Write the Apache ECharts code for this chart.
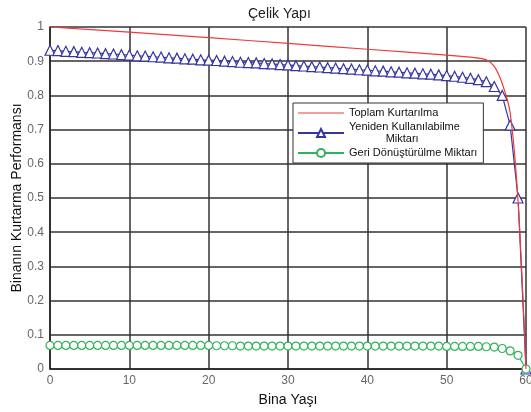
<!DOCTYPE html>
<html>
<head>
<meta charset="utf-8">
<script src="https://cdn.jsdelivr.net/npm/echarts@6/dist/echarts.min.js"></script>
<style>
  html, body { margin: 0; padding: 0; background: #fff; }
  #container { width: 531px; height: 412px; }
</style>
</head>
<body>
<div id="container"></div>
<script>
var years = [];
for (var i = 0; i <= 60; i++) years.push(i);

var seriesNames = ['Toplam Kurtarılma', 'Yeniden Kullanılabilme\n            Miktarı', 'Geri Dönüştürülme Miktarı'];

// red line, read at a few ages
var toplam = [[0, 1.0], [10, 0.985], [20, 0.969], [30, 0.952], [40, 0.935], [50, 0.918],
    [53, 0.912], [54, 0.909], [55, 0.904], [56, 0.885], [57, 0.835], [58, 0.75], [59, 0.49], [60, 0]];

var yeniden = [0.932, 0.931, 0.929, 0.928, 0.926, 0.925, 0.924, 0.922, 0.921, 0.919,
    0.918, 0.916, 0.915, 0.913, 0.912, 0.910, 0.909, 0.907, 0.906, 0.904,
    0.903, 0.902, 0.900, 0.899, 0.897, 0.896, 0.895, 0.893, 0.892, 0.890,
    0.889, 0.887, 0.886, 0.884, 0.883, 0.881, 0.880, 0.878, 0.877, 0.875,
    0.874, 0.872, 0.871, 0.869, 0.868, 0.866, 0.865, 0.863, 0.862, 0.860,
    0.858, 0.856, 0.853, 0.850, 0.846, 0.840, 0.826, 0.800, 0.713, 0.500, 0];

var geri = [0.069, 0.069, 0.069, 0.069, 0.069, 0.069, 0.069, 0.069, 0.069, 0.069,
    0.069, 0.069, 0.069, 0.069, 0.069, 0.069, 0.069, 0.069, 0.069, 0.069,
    0.069, 0.068, 0.068, 0.068, 0.067, 0.067, 0.067, 0.067, 0.067, 0.067,
    0.067, 0.067, 0.067, 0.067, 0.067, 0.067, 0.067, 0.067, 0.067, 0.067,
    0.067, 0.067, 0.067, 0.067, 0.067, 0.067, 0.067, 0.067, 0.067, 0.067,
    0.066, 0.066, 0.066, 0.066, 0.066, 0.065, 0.064, 0.060, 0.053, 0.040, 0];

function pairs(xs, ys) {
    return xs.map(function (x, i) { return [x, ys[i]]; });
}

var font = "'Liberation Sans Narrow', 'Liberation Sans', sans-serif";

var myChart = echarts.init(document.getElementById('container'));
var option = {
    animation: false,
    title: {
        text: 'Çelik Yapı',
        left: 243,
        top: 2,
        textStyle: { fontSize: 14, fontWeight: 'normal', color: '#222', fontFamily: font }
    },
    legend: {
        orient: 'vertical',
        left: 293,
        top: 103,
        padding: [4, 6, 4, 4],
        itemGap: 2,
        itemWidth: 46,
        itemHeight: 10,
        borderColor: '#333',
        borderWidth: 1,
        backgroundColor: '#fff',
        textStyle: { fontSize: 11, color: '#111', fontFamily: font, lineHeight: 12 },
        data: [
            { name: seriesNames[0], icon: 'path://M0,4.4 L46,4.4 L46,5.6 L0,5.6 Z' },
            seriesNames[1],
            seriesNames[2]
        ]
    },
    grid: { left: 50, right: 5, top: 27, bottom: 43, outerBoundsMode: 'none' },
    xAxis: {
        type: 'value',
        min: 0,
        max: 60,
        interval: 10,
        name: 'Bina Yaşı',
        nameLocation: 'middle',
        nameGap: 24,
        nameMoveOverlap: false,
        nameTextStyle: { fontSize: 14, color: '#111', fontFamily: font },
        axisLine: { lineStyle: { color: '#222', width: 1.5 } },
        axisTick: { show: false },
        axisLabel: { color: '#666', fontSize: 12, margin: 6 },
        splitLine: { show: true, lineStyle: { color: '#333', width: 1.5 } }
    },
    yAxis: {
        type: 'value',
        min: 0,
        max: 1,
        interval: 0.1,
        name: 'Binanın Kurtarma Performansı',
        nameLocation: 'middle',
        nameGap: 26,
        nameMoveOverlap: false,
        nameTextStyle: { fontSize: 14, color: '#111', fontFamily: font },
        axisLine: { show: true, lineStyle: { color: '#222', width: 1.5 } },
        axisTick: { show: false },
        axisLabel: { color: '#666', fontSize: 12, margin: 6 },
        splitLine: { show: true, lineStyle: { color: '#333', width: 1.5 } }
    },
    series: [{
        name: seriesNames[0],
        type: 'line',
        data: toplam,
        showSymbol: false,
        symbol: 'none',
        smooth: 0.3,
        lineStyle: { color: '#f03a3a', width: 1.2 },
        itemStyle: { color: '#f03a3a' },
        z: 3
    }, {
        name: seriesNames[1],
        type: 'line',
        data: pairs(years, yeniden),
        symbol: 'triangle',
        symbolSize: 10,
        lineStyle: { color: '#3535a0', width: 1.2 },
        itemStyle: { color: '#fff', borderColor: '#3535a0', borderWidth: 1.2 },
        z: 2
    }, {
        name: seriesNames[2],
        type: 'line',
        data: pairs(years, geri),
        symbol: 'circle',
        symbolSize: 8,
        lineStyle: { color: '#2db35a', width: 1.2 },
        itemStyle: { color: '#fff', borderColor: '#2db35a', borderWidth: 1.2 },
        z: 2
    }]
};
myChart.setOption(option);
</script>
</body>
</html>
